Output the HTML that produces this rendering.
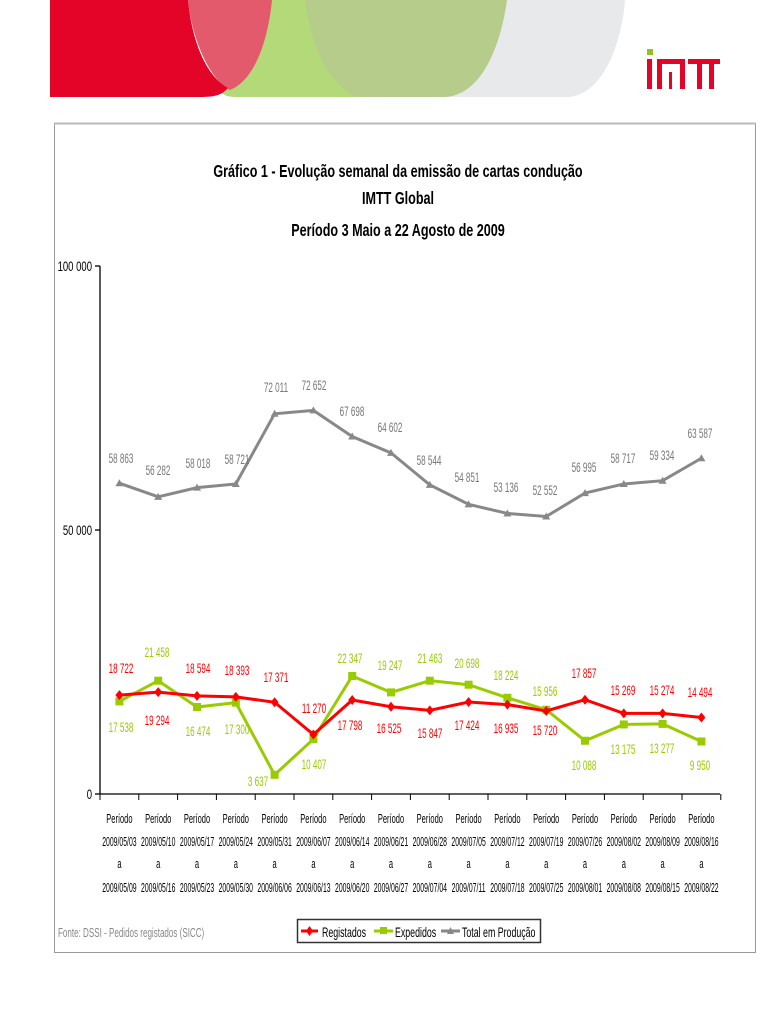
<!DOCTYPE html>
<html><head><meta charset="utf-8"><style>
body{margin:0;background:#fff;width:770px;height:1024px;overflow:hidden}
svg{display:block;font-family:"Liberation Sans",sans-serif}
</style></head><body>
<svg width="770" height="1024" viewBox="0 0 770 1024">
<path d="M420,0 H625 C622,40 605,92 570,97 H440 Z" fill="#e8e9eb"/>
<path d="M300,0 H507 C500,50 480,95 445,97 H340 C320,80 305,40 300,0Z" fill="#b5cc8b"/>
<path d="M230,0 H305 C310,40 325,80 355,97 H235 C225,97 215,92 228,85Z" fill="#b3d979"/>
<path d="M188,0 H272 C268,40 255,80 230,90 C210,80 192,40 188,0Z" fill="#e35a6c"/>
<path d="M50,0 H188 C192,40 205,75 228,88 C222,95 215,97 200,97 H50Z" fill="#e30427"/>
<rect x="647" y="49" width="6" height="6" fill="#8fc31f"/>
<rect x="647" y="59" width="5" height="30" fill="#e30427"/>
<path d="M657,59 H685 V89 H680 V64 H662 V89 H657Z M669,72 h3 v17 h-3z" fill="#e30427"/>
<path d="M688,59 H720 V64 H714 V89 H709 V64 H702 V89 H697 V64 H688Z" fill="#e30427"/>
<rect x="54.5" y="123.5" width="701" height="829" fill="#fff" stroke="#999" stroke-width="1"/>
<line x1="54" y1="123.5" x2="756" y2="123.5" stroke="#bbb" stroke-width="2"/>
<g id="T" font-weight="bold" font-size="18" text-anchor="middle" fill="#000"></g>
<g stroke="#000" stroke-width="1.3">
<line x1="100" y1="266" x2="100" y2="794"/>
<line x1="100" y1="794" x2="720" y2="794"/>
<line x1="95" y1="266" x2="100" y2="266"/><line x1="95" y1="530" x2="100" y2="530"/><line x1="95" y1="794" x2="100" y2="794"/>
</g>
<g stroke="#000" stroke-width="1" id="ticks"></g>
<g id="ax" font-size="14" text-anchor="end"></g>
<g id="cats" font-size="12.5" text-anchor="middle"></g>
<g id="series"></g>
<g id="labels" font-size="13.5" text-anchor="middle"></g>
<g id="src" font-size="13" fill="#888"></g>
<rect x="297.5" y="919.5" width="243" height="23" fill="#fff" stroke="#333" stroke-width="1.5"/>
<g stroke-width="3"><line x1="301" y1="931" x2="318" y2="931" stroke="#f00"/><line x1="374" y1="931" x2="393" y2="931" stroke="#99cc00"/><line x1="441" y1="931" x2="460" y2="931" stroke="#888"/></g>
<path d="M309.5,926 L313,931 L309.5,936 L306,931Z" fill="#f00"/>
<rect x="380" y="927" width="7" height="7" fill="#99cc00"/>
<path d="M447,934 L450.5,927 L454,934Z" fill="#888"/>
<g id="leg" font-size="14"></g>
</svg>
<script>
var ns="http://www.w3.org/2000/svg";
function el(t,a,p,txt){var e=document.createElementNS(ns,t);for(var k in a)e.setAttribute(k,a[k]);if(txt!=null)e.textContent=txt;document.getElementById(p).appendChild(e);return e;}
function tx(p,x,y,s,sx,a){a=a||{};a.transform="translate("+x+","+y+") scale("+sx+",1)";a.x=0;a.y=0;return el("text",a,p,s);}
tx("T",398,177,"Gráfico 1 - Evolução semanal da emissão de cartas condução",0.7);
tx("T",398,204,"IMTT Global",0.7);
tx("T",398,236,"Período 3 Maio a 22 Agosto de 2009",0.7);
tx("ax",92,271,"100 000",0.68);tx("ax",92,535,"50 000",0.68);tx("ax",92,799,"0",0.68);
tx("src",58,937,"Fonte: DSSI - Pedidos registados (SICC)",0.62);
tx("leg",322,937,"Registados",0.63);tx("leg",395,937,"Expedidos",0.63);tx("leg",462,937,"Total em Produção",0.63);
var X=function(i){return 119.4+i*38.8},Y=function(v){return 794-v*0.00528};
var st=["03","10","17","24","31","07","14","21","28","05","12","19","26","02","09","16"],sm=["05","05","05","05","05","06","06","06","06","07","07","07","07","08","08","08"];
var en=["09","16","23","30","06","13","20","27","04","11","18","25","01","08","15","22"],em=["05","05","05","05","06","06","06","06","07","07","07","07","08","08","08","08"];
for(var i=0;i<=16;i++)el("line",{x1:100+i*38.8,y1:794,x2:100+i*38.8,y2:800},"ticks");
for(var i=0;i<16;i++){var x=X(i);tx("cats",x,823,"Período",0.6);tx("cats",x,846,"2009/"+sm[i]+"/"+st[i],0.55);tx("cats",x,868,"a",0.6);tx("cats",x,892,"2009/"+em[i]+"/"+en[i],0.55);}
var R=[18722,19294,18594,18393,17371,11270,17798,16525,15847,17424,16935,15720,17857,15269,15274,14494];
var G=[17538,21458,16474,17300,3637,10407,22347,19247,21463,20698,18224,15956,10088,13175,13277,9950];
var T=[58863,56282,58018,58721,72011,72652,67698,64602,58544,54851,53136,52552,56995,58717,59334,63587];
function ser(d,c,m){var p=d.map(function(v,i){return X(i)+","+Y(v)}).join(" ");el("polyline",{points:p,fill:"none",stroke:c,"stroke-width":3},"series");d.forEach(function(v,i){var x=X(i),y=Y(v);if(m=="sq")el("rect",{x:x-4,y:y-4,width:8,height:8,fill:c},"series");else if(m=="tri")el("path",{d:"M"+(x-4)+","+(y+3)+"L"+x+","+(y-4)+"L"+(x+4)+","+(y+3)+"Z",fill:c},"series");else el("path",{d:"M"+x+","+(y-5)+"L"+(x+4)+","+y+"L"+x+","+(y+5)+"L"+(x-4)+","+y+"Z",fill:c},"series");});}
ser(T,"#888","tri");ser(G,"#99cc00","sq");ser(R,"#f00","dia");
function fmt(v){var s=String(v);return s.length>3?s.slice(0,-3)+" "+s.slice(-3):s;}
var RL=[[121,673],[157,725],[198,673],[237,675],[276,682],[314,713],[350,730],[389,733],[430,738],[467,730],[506,733],[545,735],[584,678],[623,695],[662,695],[700,697]];
var GL=[[121,732],[157,657],[198,736],[237,734],[258,786],[314,769],[350,663],[390,670],[430,663],[467,668],[506,680],[545,696],[584,770],[623,754],[662,753],[700,770]];
var TL=[[121,463],[158,475],[198,468],[237,464],[276,392],[314,390],[352,416],[390,432],[429,465],[467,482],[506,492],[545,495],[584,472],[623,463],[662,460],[700,438]];
R.forEach(function(v,i){tx("labels",RL[i][0],RL[i][1],fmt(v),0.6,{fill:"#f00"});});
G.forEach(function(v,i){tx("labels",GL[i][0],GL[i][1],fmt(v),0.6,{fill:"#99cc00"});});
T.forEach(function(v,i){tx("labels",TL[i][0],TL[i][1],fmt(v),0.6,{fill:"#777"});});
</script>
</body></html>
